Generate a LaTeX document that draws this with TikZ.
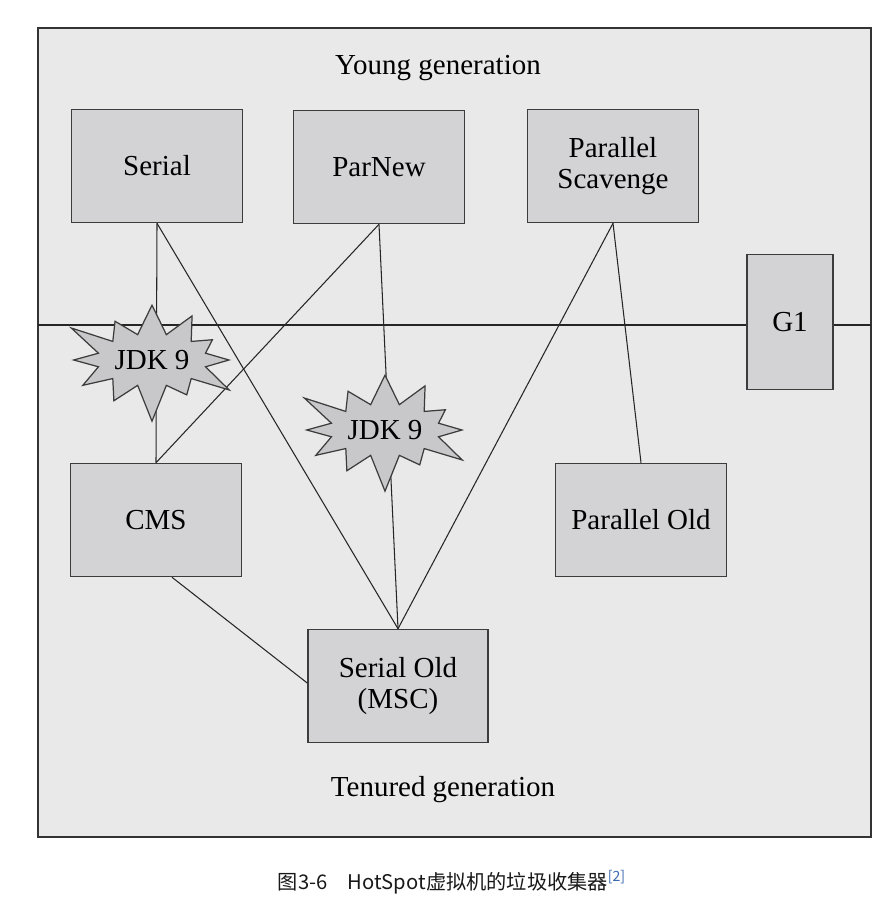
\documentclass[tikz,border=0pt]{standalone}
\usepackage{fontspec}
\setmainfont{Liberation Serif}
\newfontfamily\cjk{Noto Sans CJK SC}
\usepackage{tikz}
\usetikzlibrary{shapes.symbols}
\definecolor{bggray}{RGB}{233,233,233}
\definecolor{boxgray}{RGB}{211,211,213}
\definecolor{stargray}{RGB}{200,200,202}
\definecolor{edgegray}{RGB}{60,60,60}
\definecolor{refblue}{RGB}{58,106,176}

\begin{document}
\begin{tikzpicture}[x=0.02cm,y=-0.02cm,
  gcbox/.style={draw=edgegray,line width=0.9pt,fill=boxgray,
    minimum width=3.42cm,minimum height=2.26cm,align=center,
    font=\fontsize{16.5}{17.5}\selectfont},
  jdkstar/.style={starburst,starburst points=12,
    starburst point height=0.8cm,draw=edgegray,line width=0.7pt,
    fill=stargray,minimum width=2.96cm,minimum height=2.65cm,inner sep=1pt,
    font=\fontsize{16.5}{17.5}\selectfont},
  gclabel/.style={font=\fontsize{16.5}{17.5}\selectfont},
  gcline/.style={draw=black!85,line width=0.6pt}]
  \useasboundingbox
    (0,0)
    rectangle
    (888,901);
  \draw[draw=black!80,line width=1.1pt,fill=bggray]
    (38,28)
    rectangle
    (871,837);
  % the collectors
  \node[gcbox] (serial) at (157,166) {Serial};
  \node[gcbox] (parnew) at (379,167) {ParNew};
  \node[gcbox] (pscav) at (613,166) {Parallel\\Scavenge};
  \node[gcbox,minimum width=1.72cm,minimum height=2.7cm] (g1) at (790,322) {G1};
  \node[gcbox] (cms) at (156,520) {CMS};
  \node[gcbox] (pold) at (641,520) {Parallel Old};
  \node[gcbox,minimum width=3.6cm] (sold) at (398,686) {Serial Old\\(MSC)};
  \node[gclabel] (young) at (438,68) {Young generation};
  \node[gclabel] (tenured) at (443,790) {Tenured generation};
  % border of the two generations
  \coordinate (mleft) at (38,325);
  \coordinate (mright) at (871,325);
  \draw[gcline]
    (mleft)
    --
    (mleft -| g1.west);
  \draw[gcline]
    (g1.east |- mright)
    --
    (mright);
  % which ones work together
  \draw[gcline] (serial.south) -- (cms.north);
  \draw[gcline] (serial.south) -- (sold.north);
  \draw[gcline] (parnew.south) -- (cms.north);
  \draw[gcline] (parnew.south) -- (sold.north);
  \draw[gcline] (pscav.south) -- (sold.north);
  \draw[gcline] (pscav.south) -- (pold.north);
  \draw[gcline] ([xshift=0.32cm]cms.south) -- ([yshift=0.06cm]sold.west);
  % removed in JDK 9
  \pgfmathsetseed{7}
  \node[jdkstar] (star1) at (152,360) {JDK 9};
  \node[jdkstar] (star2) at (385,430) {JDK 9};
  \node[font=\cjk\fontsize{11.5}{13}\selectfont,text=black!90] (caption) at (452,882)
    {图3-6\quad HotSpot虚拟机的垃圾收集器\textsuperscript{\textcolor{refblue}{[2]}}};
\end{tikzpicture}
\end{document}
